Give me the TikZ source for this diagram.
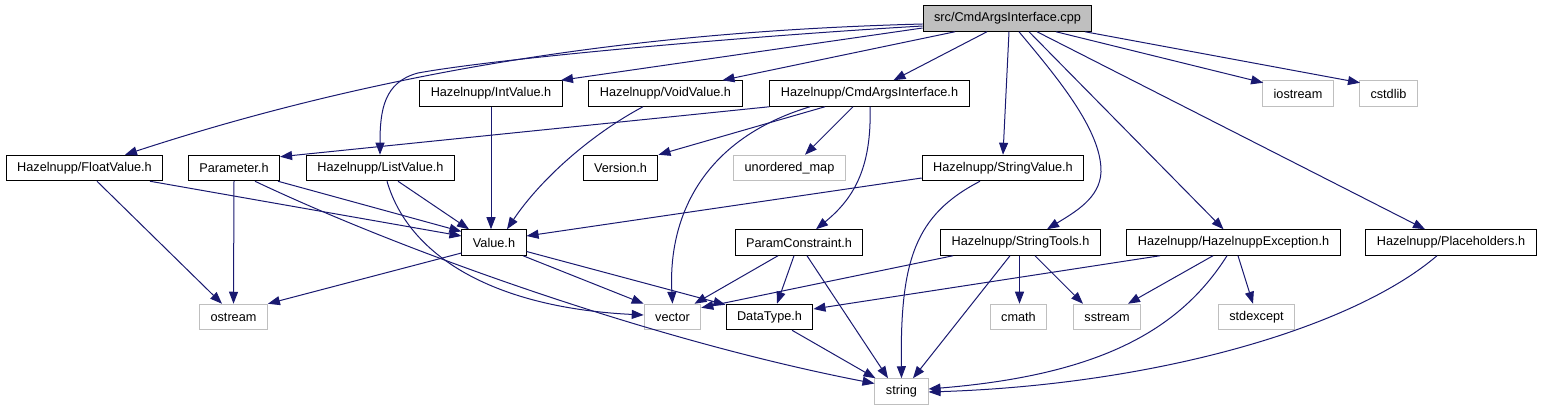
\documentclass[tikz,border=0pt]{standalone}
\usepackage{fontspec}
\setmainfont{Liberation Sans}
\usepackage{tikz}
\usetikzlibrary{arrows.meta}
\definecolor{edgeblue}{HTML}{191970}
\definecolor{sysgrey}{HTML}{BFBFBF}
\tikzset{
  % Project headers
  hdr/.style={draw=black,line width=1pt,fill=white,minimum height=25.5pt,
              inner xsep=11pt,inner ysep=0pt,font=\fontsize{12.7}{14}\selectfont},
  % The source file itself
  rootfile/.style={hdr,fill=sysgrey},
  % System headers
  sys/.style={hdr,draw=sysgrey},
  % Include arrows
  inc/.style={-{Triangle[length=12pt,width=9pt]},edgeblue,line width=1pt}
}

\begin{document}
\begin{tikzpicture}[x=1pt,y=-1pt]
  \useasboundingbox (0,0) rectangle (1543,411);
  % Row 0: y = 18.5 (source file)
  % Row 1: y = 93.5
  % Row 2: y = 168
  % Row 3: y = 242.5
  % Row 4: y = 317
  % Row 5: y = 391.5 (string)

  % --- Nodes ---
  \node[rootfile] (cpp) at (1007.5,18.5) {src/CmdArgsInterface.cpp};

  \node[hdr] (intval)  at (491,93.5)   {Hazelnupp/IntValue.h};
  \node[hdr] (voidval) at (665.5,93.5) {Hazelnupp/VoidValue.h};
  \node[hdr] (cai)     at (869.5,93.5) {Hazelnupp/CmdArgsInterface.h};
  \node[sys] (iostr)   at (1298,93.5)  {iostream};
  \node[sys] (cstd)    at (1388.5,93.5){cstdlib};

  \node[hdr] (floatval) at (84.5,168)  {Hazelnupp/FloatValue.h};
  \node[hdr] (param)    at (234,168)   {Parameter.h};
  \node[hdr] (listval)  at (380.5,168) {Hazelnupp/ListValue.h};
  \node[hdr] (version)  at (620.5,168) {Version.h};
  \node[sys] (umap)     at (789.5,168) {unordered\_map};
  \node[hdr] (strval)   at (1003,168)  {Hazelnupp/StringValue.h};

  \node[hdr] (value)    at (494,242.5)   {Value.h};
  \node[hdr] (pconstr)  at (799,242.5)   {ParamConstraint.h};
  \node[hdr] (strtools) at (1020.5,242.5){Hazelnupp/StringTools.h};
  \node[hdr] (hexc)     at (1233.5,242.5){Hazelnupp/HazelnuppException.h};
  \node[hdr] (placeh)   at (1451,242.5)  {Hazelnupp/Placeholders.h};

  \node[sys] (ostr)   at (233.5,317)  {ostream};
  \node[sys] (vec)    at (672.5,317)  {vector};
  \node[hdr] (dtype)  at (769.5,317)  {DataType.h};
  \node[sys] (cmath)  at (1018.5,317) {cmath};
  \node[sys] (sstr)   at (1107,317)   {sstream};
  \node[sys] (stdexc) at (1256.5,317) {stdexcept};

  \node[sys] (str) at (901.5,391.5) {string};

  % --- Includes of the source file ---
  \draw[inc] ([yshift=-5.5]cpp.west) .. controls (700,30) and (430,55) .. ([xshift=40.5]floatval.north);
  \draw[inc] ([yshift=-7.5]cpp.west) .. controls (750,36) and (500,58) .. (418,73)
             .. controls (384,82) and (380,110) .. ([xshift=-0.5]listval.north);
  \draw[inc] ([yshift=-9.5]cpp.west) -- ([xshift=70]intval.north);
  \draw[inc] ([xshift=-52.5]cpp.south) -- ([xshift=57]voidval.north);
  \draw[inc] ([xshift=-20.5]cpp.south) -- ([xshift=24]cai.north);
  \draw[inc] ([xshift=1.5]cpp.south) -- (strval.north);
  \draw[inc] ([xshift=11.5]cpp.south) .. controls (1055,75) and (1102,130) .. (1101,172)
             .. controls (1100,198) and (1075,212) .. ([xshift=26.5]strtools.north);
  \draw[inc] ([xshift=21.5]cpp.south) -- ([xshift=-10]hexc.north);
  \draw[inc] ([xshift=29.5]cpp.south) -- ([xshift=-26]placeh.north);
  \draw[inc] ([xshift=48.5]cpp.south) -- ([xshift=1,yshift=-2.5]iostr.north west);
  \draw[inc] ([xshift=77.5]cpp.south) -- ([xshift=1,yshift=-2.5]cstd.north west);

  % --- CmdArgsInterface.h ---
  \draw[inc] (cai.south west) -- ([yshift=-2]param.north east);
  \draw[inc] ([xshift=-44.5]cai.south) -- (version.north east);
  \draw[inc] ([xshift=-59.5]cai.south) .. controls (700,140) and (668,220) .. (vec.north);
  \draw[inc] ([xshift=-16.5]cai.south) -- ([xshift=15.5]umap.north);
  \draw[inc] ([xshift=0.5]cai.south) .. controls (872,170) and (852,200) .. ([xshift=17]pconstr.north);

  % --- Value headers ---
  \draw[inc] (intval.south) -- (intval.south |- value.north);
  \draw[inc] ([xshift=-22.5]voidval.south) .. controls (590,135) and (540,180) .. ([xshift=13]value.north);
  \draw[inc] ([xshift=12.5]floatval.south) -- ([xshift=-11.5]ostr.north);
  \draw[inc] ([xshift=65.5]floatval.south) -- ([yshift=6.5]value.west);
  \draw[inc] (param.south) -- (ostr.north);
  \draw[inc] ([xshift=44]param.south) -- ([yshift=11]value.west);
  \draw[inc] ([xshift=21]param.south) .. controls (400,250) and (650,340) .. ([yshift=8]str.west);
  \draw[inc] ([xshift=17.5]listval.south) -- ([xshift=-25]value.north);
  \draw[inc] ([xshift=6.5]listval.south) .. controls (410,260) and (500,308) .. ([yshift=2]vec.west);
  \draw[inc] ([yshift=-10]strval.west) -- ([yshift=6.5]value.east);
  \draw[inc] ([xshift=-23]strval.south) .. controls (915,215) and (900,260) .. (str.north);

  % --- Value.h and ParamConstraint.h ---
  \draw[inc] ([yshift=-10.5]value.west) -- (ostr.north east);
  \draw[inc] ([xshift=29]value.south) -- (vec.north west);
  \draw[inc] ([yshift=-9]value.east) -- ([yshift=-1]dtype.north west);
  \draw[inc] ([xshift=-21]pconstr.south) -- ([xshift=22]vec.north);
  \draw[inc] ([xshift=-5]pconstr.south) -- ([xshift=7.5]dtype.north);
  \draw[inc] ([xshift=8]pconstr.south) -- ([xshift=-13.5]str.north);

  % --- StringTools.h ---
  \draw[inc] ([xshift=-67.5]strtools.south) -- ([yshift=-4]vec.north east);
  \draw[inc] ([xshift=-10.5]strtools.south) -- ([xshift=11.5]str.north);
  \draw[inc] ([xshift=-1]strtools.south) -- ([xshift=1]cmath.north);
  \draw[inc] ([xshift=14.5]strtools.south) -- ([xshift=-24]sstr.north);

  % --- HazelnuppException.h and Placeholders.h ---
  \draw[inc] ([xshift=-73.5]hexc.south) -- ([yshift=8]dtype.east);
  \draw[inc] ([xshift=-20.5]hexc.south) -- ([xshift=21]sstr.north);
  \draw[inc] ([xshift=-6.5]hexc.south) .. controls (1180,330) and (1100,375) .. ([yshift=2.5]str.east);
  \draw[inc] ([xshift=4.5]hexc.south) -- ([xshift=-3.5]stdexc.north);
  \draw[inc] ([xshift=-14]placeh.south) .. controls (1350,330) and (1150,385) .. ([yshift=-0.5]str.east);

  % --- DataType.h ---
  \draw[inc] ([xshift=22.5]dtype.south) -- ([xshift=1]str.north west);
\end{tikzpicture}
\end{document}
